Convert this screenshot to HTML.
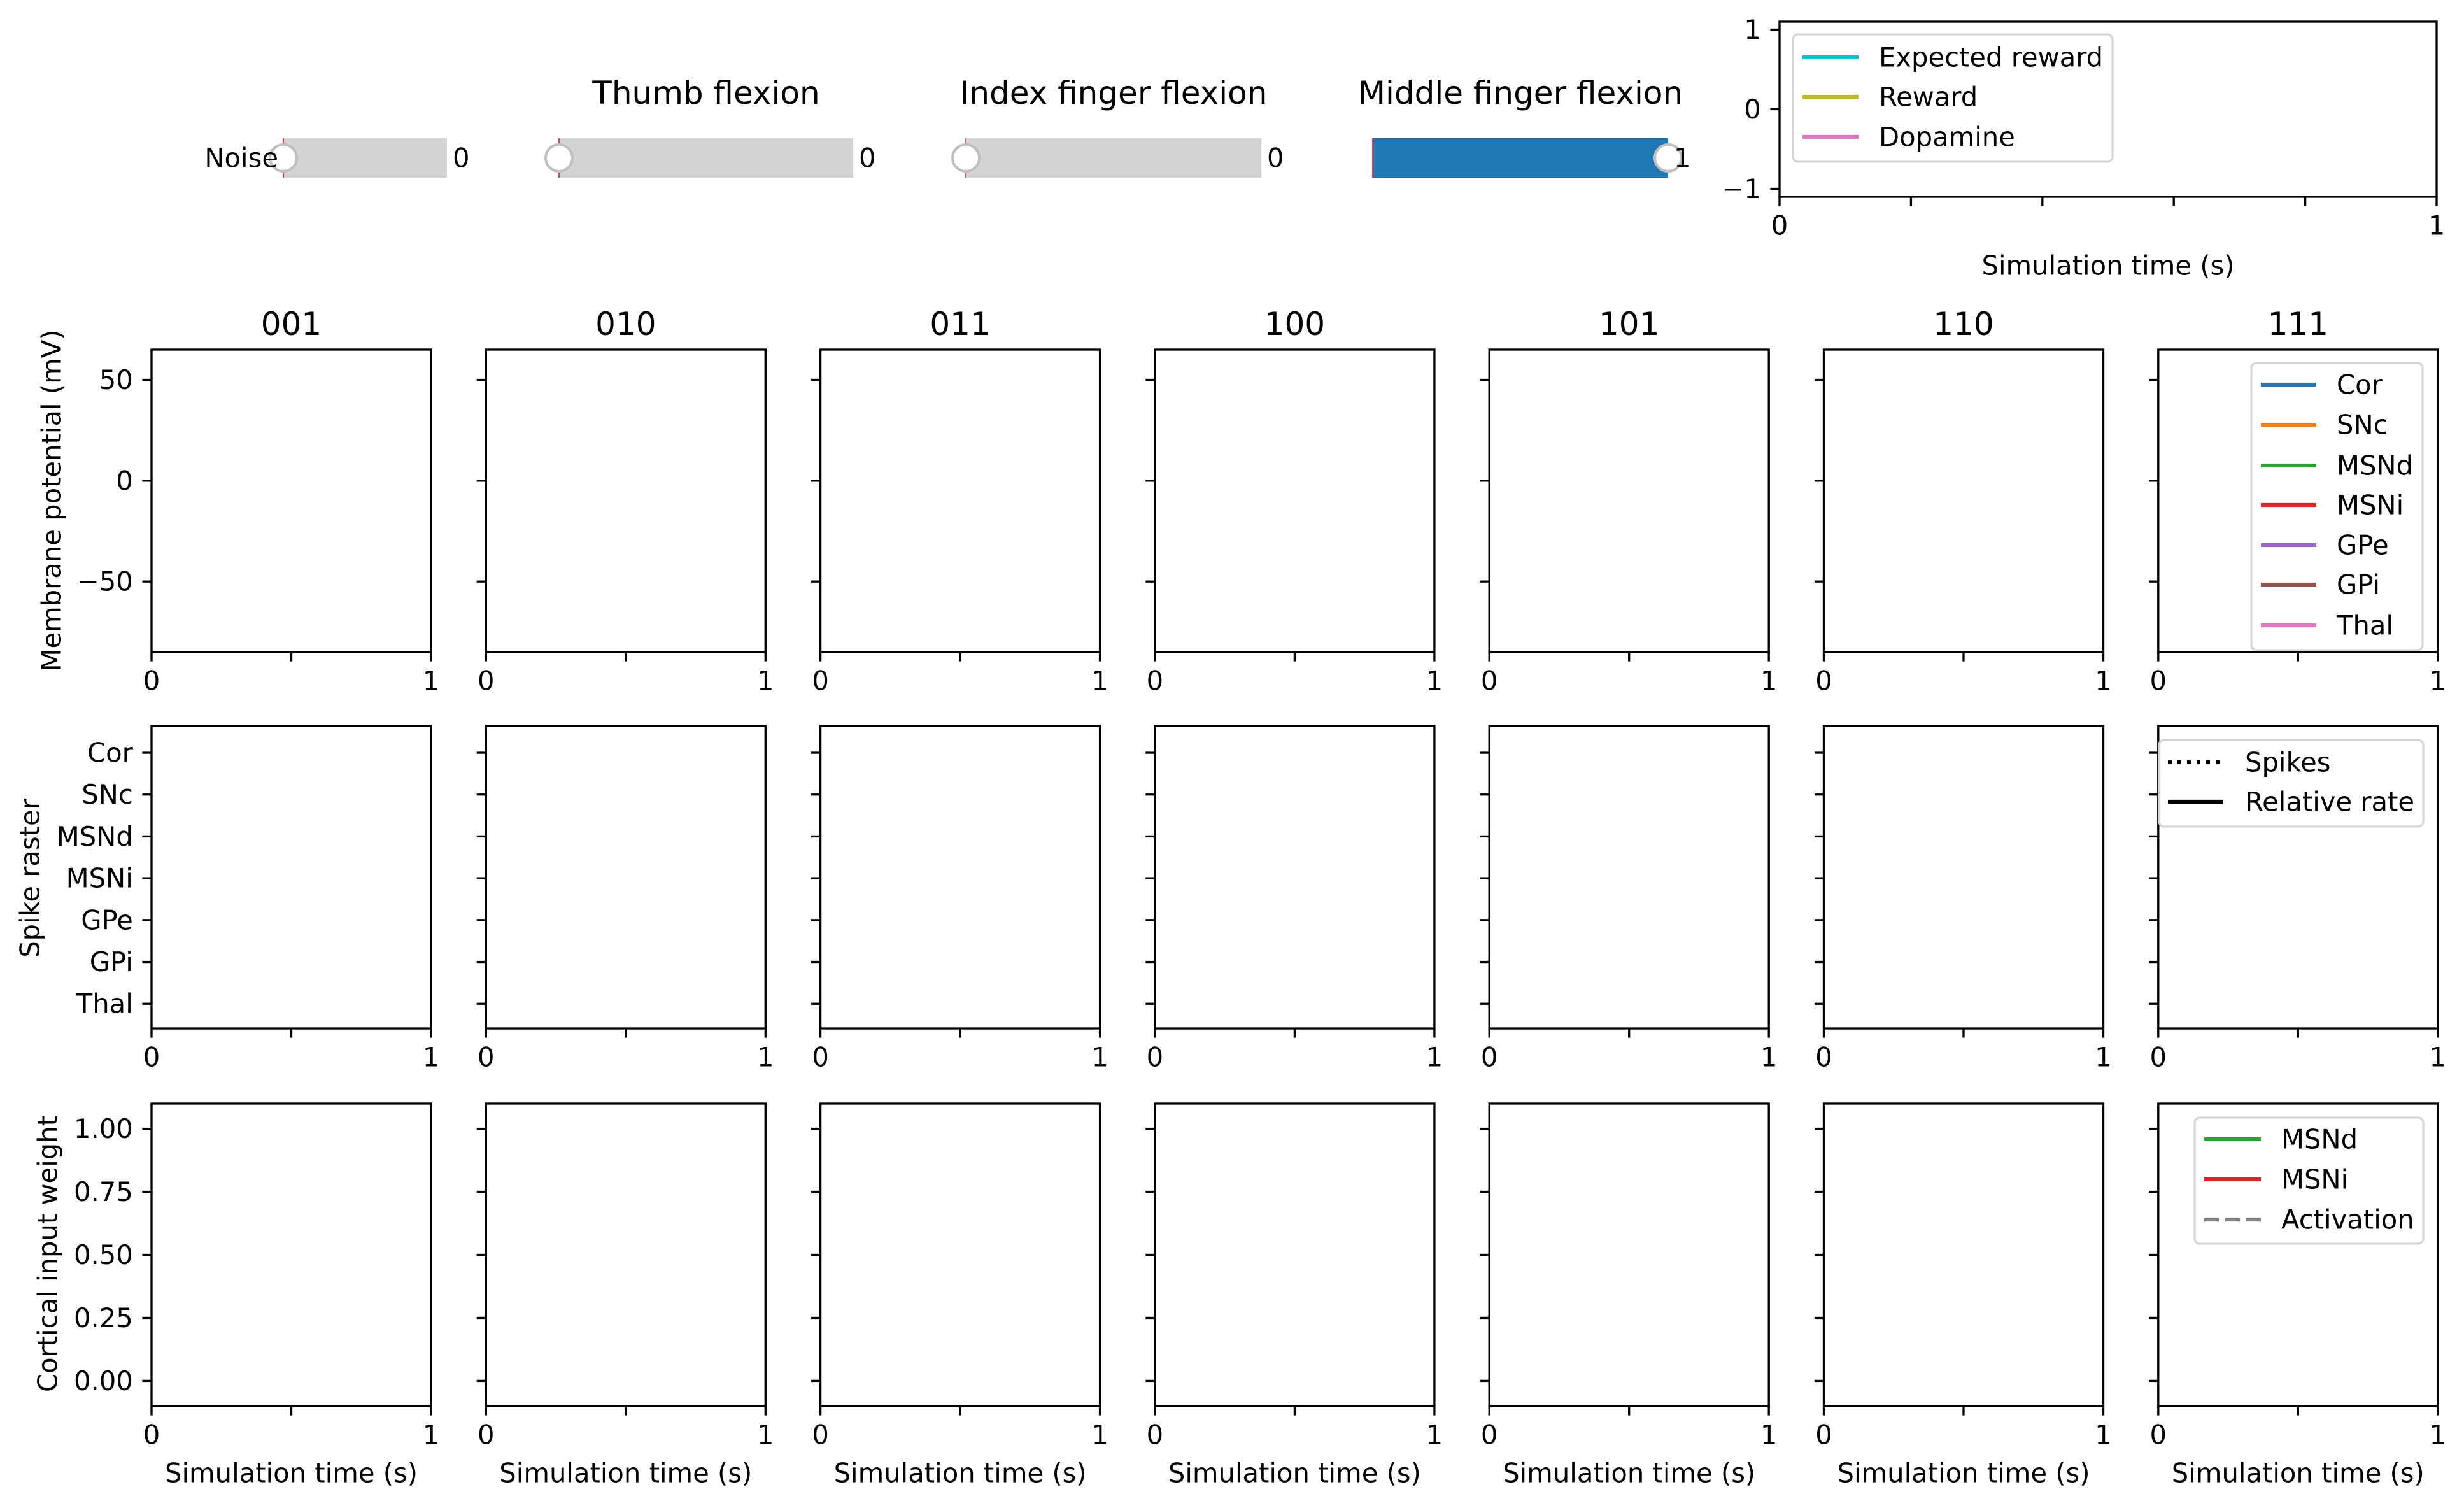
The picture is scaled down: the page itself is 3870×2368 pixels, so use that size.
<!DOCTYPE html>
<html><head><meta charset="utf-8">
<style>
html,body{margin:0;padding:0;background:#fff;}
svg{display:block;font-family:"DejaVu Sans","Liberation Sans",sans-serif;}
</style></head>
<body>
<svg id="fig" width="3870" height="2368" viewBox="0 0 3870 2368" xmlns="http://www.w3.org/2000/svg">
<rect width="3870" height="2368" fill="#fff"/>
</svg>
<script>
// ---- data ----
const columnTitles = ['001','010','011','100','101','110','111'];
const rasterCategories = ['Cor','SNc','MSNd','MSNi','GPe','GPi','Thal'];
const potentialTicks = [50, 0, -50];
const weightTicks = [1.00, 0.75, 0.50, 0.25, 0.00];
const weightTickLabels = ['1.00','0.75','0.50','0.25','0.00'];
const xTicks = [0, 0.5, 1];
const xTickLabels = ['0','','1'];
const rewardTicks = [1, 0, -1];
const rewardXTicks = [0, 0.2, 0.4, 0.6, 0.8, 1];
const rewardXTickLabels = ['0','','','','','1'];
const potentialLegend = ['Cor','SNc','MSNd','MSNi','GPe','GPi','Thal'];
const potentialColors = ['#1f77b4','#ff7f0e','#2ca02c','#d62728','#9467bd','#8c564b','#e377c2'];
const rewardLegend = ['Expected reward','Reward','Dopamine'];
const rewardColors = ['#17becf','#bcbd22','#e377c2'];
const sliderLabels = ['Noise','Thumb flexion','Index finger flexion','Middle finger flexion'];
const sliderValues = [0, 0, 0, 1];
const seriesTimes = [];   // simulation time samples (empty in reference)
const seriesValues = [];  // no traces plotted in reference

const svg = document.getElementById('fig');
const NS = 'http://www.w3.org/2000/svg';
function el(tag, attrs, parent){
  const e = document.createElementNS(NS, tag);
  for (const k in attrs) e.setAttribute(k, attrs[k]);
  (parent||svg).appendChild(e);
  return e;
}
function txt(s, attrs, parent){ const t = el('text', attrs, parent); t.textContent = s; return t; }
const FS = 41.7, TFS = 50, LW = 3.33, TL = 14.6;

// ---- sliders ----
const sliderGeom = [
  {x0:445, x1:702, title:false},
  {x0:878, x1:1340, title:true},
  {x0:1517, x1:1981, title:true},
  {x0:2156, x1:2620, title:true}
];
sliderGeom.forEach((g,i)=>{
  const grp = el('g', {});
  
  
  const sx = v => g.x0 + v*(g.x1-g.x0);
  el('rect', {x:g.x0, y:217, width:g.x1-g.x0, height:62, fill:'#d3d3d3'}, grp);
  if (sliderValues[i] > 0) el('rect', {x:g.x0, y:217, width:sx(sliderValues[i])-g.x0, height:62, fill:'#1f77b4'}, grp);
  el('line', {x1:g.x0, x2:g.x0, y1:217, y2:279, stroke:'#ff0000', 'stroke-width':1.5}, grp);
  const h = el('circle', {cx:sx(sliderValues[i]), cy:248, r:21, fill:'#fff', stroke:'#bfbfbf', 'stroke-width':4}, grp);
  
  
  const v = txt(String(sliderValues[i]), {x:g.x1+9, y:248, 'font-size':FS, 'dominant-baseline':'central'}, grp);
  
  
  if (g.title) {
    const t = txt(sliderLabels[i], {x:(g.x0+g.x1)/2, y:146, 'font-size':TFS, 'text-anchor':'middle', 'dominant-baseline':'central'}, grp);
    
    
  } else {
    const t = txt(sliderLabels[i], {x:437, y:248, 'font-size':FS, 'text-anchor':'end', 'dominant-baseline':'central'}, grp);
    
    
  }
});

// ---- generic axes ----
function axes(o){
  const g = el('g', {});
  
  
  const X = v => o.x + (v - o.xlim[0])/(o.xlim[1]-o.xlim[0])*o.w;
  const Y = v => o.y + (o.ylim[1] - v)/(o.ylim[1]-o.ylim[0])*o.h;
  el('rect', {x:o.x, y:o.y, width:o.w, height:o.h, fill:'#fff', stroke:'#000', 'stroke-width':LW}, g);
  o.xticks.forEach((t,k)=>{
    el('line', {x1:X(t), x2:X(t), y1:o.y+o.h, y2:o.y+o.h+TL, stroke:'#000', 'stroke-width':LW}, g);
    if (o.xlabels[k]) {
      const lb = txt(o.xlabels[k], {x:X(t), y:o.y+o.h+TL+14.6+FS*0.38, 'font-size':FS, 'text-anchor':'middle', 'dominant-baseline':'central'}, g);
      
      
    }
  });
  o.yticks.forEach((t,k)=>{
    el('line', {x1:o.x-TL, x2:o.x, y1:Y(t), y2:Y(t), stroke:'#000', 'stroke-width':LW}, g);
    if (o.ylabels) {
      const lb = txt(o.ylabels[k], {x:o.x-TL-14.6, y:Y(t), 'font-size':FS, 'text-anchor':'end', 'dominant-baseline':'central'}, g);
      
      
    }
  });
  seriesValues.forEach((vals, si)=>{
    const pts = vals.map((v,j)=>X(seriesTimes[j])+','+Y(v)).join(' ');
    const pl = el('polyline', {points:pts, fill:'none', stroke:potentialColors[si%7], 'stroke-width':5}, g);
    
    
  });
  if (o.title) {
    const t = txt(o.title, {x:o.x+o.w/2, y:o.y-40, 'font-size':TFS, 'text-anchor':'middle', 'dominant-baseline':'central'}, g);
    
    
  }
  if (o.xlabel) {
    const t = txt(o.xlabel, {x:o.x+o.w/2, y:o.xlabelY, 'font-size':FS, 'text-anchor':'middle', 'dominant-baseline':'central'}, g);
    
    
  }
  return g;
}

function legend(box, entries, lineX, textX, ys, styles){
  const g = el('g', {});
  
  
  el('rect', {x:box[0], y:box[1], width:box[2]-box[0], height:box[3]-box[1], rx:8, fill:'#fff', 'fill-opacity':0.8, stroke:'#d6d6d6', 'stroke-width':3.3}, g);
  entries.forEach((s,k)=>{
    const e = el('g', {}, g);
    
    
    const st = styles[k];
    const a = {x1:lineX[0], x2:lineX[1], y1:ys[k], y2:ys[k], stroke:st.c, 'stroke-width':6.25};
    if (st.d) a['stroke-dasharray'] = st.d;
    el('line', a, e);
    txt(s, {x:textX, y:ys[k], 'font-size':FS, 'dominant-baseline':'central'}, e);
  });
}

// ---- top-right reward axes ----
axes({name:'reward-axes', x:2795, y:34, w:1032, h:275, xlim:[0,1], ylim:[-1.1,1.1],
  xticks:rewardXTicks, xlabels:rewardXTickLabels, yticks:rewardTicks, ylabels:rewardTicks.map(v=>v<0?'\u2212'+Math.abs(v):String(v)),
  xlabel:'Simulation time (s)', xlabelY:417});
legend([2816,54,3318,254], rewardLegend, [2831,2919], 2951, [90,152,215], rewardColors.map(c=>({c})));

// ---- grid ----
const colX = i => 238 + i*525.3;
const W = 439, H = 475;
for (let i=0;i<7;i++){
  axes({name:'potential-axes-'+columnTitles[i], x:colX(i), y:549, w:W, h:H, xlim:[0,1], ylim:[-85,65],
    xticks:xTicks, xlabels:xTickLabels, yticks:potentialTicks,
    ylabels: i===0 ? potentialTicks.map(v=>v<0?'\u2212'+Math.abs(v):String(v)) : null,
    title:columnTitles[i]});
  axes({name:'raster-axes-'+columnTitles[i], x:colX(i), y:1140, w:W, h:H, xlim:[0,1], ylim:[-6.59,0.64],
    xticks:xTicks, xlabels:xTickLabels, yticks:rasterCategories.map((c,k)=>-k),
    ylabels: i===0 ? rasterCategories : null});
  axes({name:'weight-axes-'+columnTitles[i], x:colX(i), y:1733, w:W, h:H, xlim:[0,1], ylim:[-0.1,1.1],
    xticks:xTicks, xlabels:xTickLabels, yticks:weightTicks,
    ylabels: i===0 ? weightTickLabels : null, xlabel:'Simulation time (s)', xlabelY:2313});
}
legend([3536,570,3805,1021], potentialLegend, [3551,3638], 3670, [604,667,731,793,856,918,982], potentialColors.map(c=>({c})));
legend([3391,1162,3806,1298], ['Spikes','Relative rate'], [3405,3492], 3526, [1197,1259], [{c:'#000',d:'6,9'},{c:'#000'}]);
legend([3447,1755,3806,1953], ['MSNd','MSNi','Activation'], [3462,3551], 3583, [1789,1852,1915], [{c:'#2ca02c'},{c:'#d62728'},{c:'#7f7f7f',d:'23,10'}]);

// ---- y axis titles ----
[['Membrane potential (mV)',81,786,'y-axis-title-potential'],['Spike raster',47,1379,'y-axis-title-raster'],['Cortical input weight',75,1969,'y-axis-title-weight']].forEach(a=>{
  const t = txt(a[0], {x:a[1], y:a[2], 'font-size':FS, 'text-anchor':'middle', 'dominant-baseline':'central', transform:'rotate(-90 '+a[1]+' '+a[2]+')'});
  
  
});
</script>
</body></html>
